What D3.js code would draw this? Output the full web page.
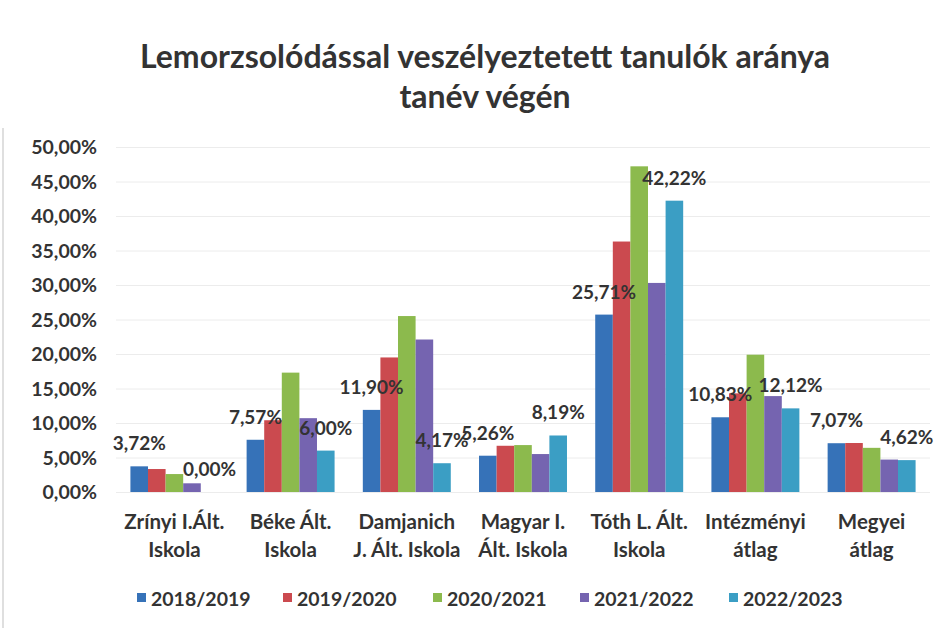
<!DOCTYPE html>
<html>
<head>
<meta charset="utf-8">
<script src="https://cdn.jsdelivr.net/npm/d3@7"></script>
<style>
    body { margin: 0; background: #fff; }
    svg { display: block; font-family: Lato, "Open Sans", sans-serif; }
</style>
</head>
<body>
<div id="chart"></div>
<script>
let categories = [
    ["Zrínyi I.Ált.", "Iskola"],
    ["Béke Ált.", "Iskola"],
    ["Damjanich", "J. Ált. Iskola"],
    ["Magyar I.", "Ált. Iskola"],
    ["Tóth L. Ált.", "Iskola"],
    ["Intézményi", "átlag"],
    ["Megyei", "átlag"]
];
let seriesNames = ["2018/2019", "2019/2020", "2020/2021", "2021/2022", "2022/2023"];
let seriesColors = ["#3672b8", "#cb4a4f", "#8cba4d", "#7564b0", "#3b9ec4"];

// one array per school year, values in percent
let v2018 = [3.72, 7.57, 11.90, 5.26, 25.71, 10.83, 7.07];
let v2019 = [3.33, 10.4, 19.5, 6.7, 36.3, 14.3, 7.1];
let v2020 = [2.6, 17.3, 25.5, 6.8, 47.2, 19.9, 6.4];
let v2021 = [1.26, 10.7, 22.1, 5.5, 30.3, 13.9, 4.7];
let v2022 = [0.00, 6.00, 4.17, 8.19, 42.22, 12.12, 4.62];

let yTicks = [0, 5, 10, 15, 20, 25, 30, 35, 40, 45, 50];
let labelledSeries = [0, 4];   // Excel only shows labels on first and last year

let allValues = [v2018, v2019, v2020, v2021, v2022];

function fmt(v) {
    return v.toFixed(2).replace(".", ",") + "%";
}

function drawChart() {
    let width = 941, height = 628;
    let svg = d3.select("#chart").append("svg")
        .attr("width", width)
        .attr("height", height);

    // faint scanner edge on the left
    svg.append("line")
        .attr("x1", 3).attr("x2", 3)
        .attr("y1", 128).attr("y2", height)
        .attr("stroke", "#d4d4d4")
        .attr("stroke-width", 1.5);

    let left = 116, right = 930, top = 147, bottom = 492;

    let x0 = d3.scaleBand()
        .domain(d3.range(categories.length))
        .range([left, right])
        .paddingInner(0.243)
        .paddingOuter(0.124);
    let x1 = d3.scaleBand()
        .domain(d3.range(seriesNames.length))
        .range([0, x0.bandwidth()]);
    let y = d3.scaleLinear().domain([0, 50]).range([bottom, top]);

    // title
    let title = svg.append("text")
        .attr("text-anchor", "middle")
        .attr("font-size", 32)
        .attr("font-weight", 700)
        .attr("fill", "#333");
    title.append("tspan").attr("x", 485).attr("y", 68).text("Lemorzsolódással veszélyeztetett tanulók aránya");
    title.append("tspan").attr("x", 485).attr("y", 108).text("tanév végén");

    // y axis: gridlines + labels
    let yAxis = svg.append("g")
        .attr("transform", "translate(" + left + ",0)")
        .call(d3.axisLeft(y).tickValues(yTicks).tickSize(-(right - left)).tickFormat(fmt));
    yAxis.select(".domain").remove();
    yAxis.selectAll(".tick line")
        .attr("stroke", "#ececec");
    yAxis.selectAll(".tick text")
        .attr("x", -19)
        .attr("dy", "0.35em")
        .attr("font-family", "Lato, sans-serif")
        .attr("font-size", 19.5)
        .attr("font-weight", 700)
        .attr("fill", "#333");

    // bars
    let groups = svg.selectAll(".grp")
        .data(categories)
        .enter().append("g")
        .attr("class", "grp")
        .attr("transform", (d, i) => "translate(" + x0(i) + ",0)");

    groups.selectAll("rect")
        .data((d, i) => allValues.map((s, k) => ({ k: k, v: s[i] })))
        .enter().append("rect")
        .attr("x", d => x1(d.k))
        .attr("y", d => y(d.v))
        .attr("width", x1.bandwidth())
        .attr("height", d => bottom - y(d.v))
        .attr("fill", d => seriesColors[d.k]);

    // data labels
    groups.selectAll(".lbl")
        .data((d, i) => labelledSeries.map(k => ({ k: k, v: allValues[k][i] })))
        .enter().append("text")
        .attr("class", "lbl")
        .attr("x", d => x1(d.k) + x1.bandwidth() / 2)
        .attr("y", d => y(d.v) - 16)
        .attr("text-anchor", "middle")
        .attr("font-size", 19)
        .attr("font-weight", 700)
        .attr("fill", "#333")
        .text(d => fmt(d.v));

    // category labels
    let cat = svg.selectAll(".cat")
        .data(categories)
        .enter().append("text")
        .attr("class", "cat")
        .attr("text-anchor", "middle")
        .attr("font-size", 20.5)
        .attr("font-weight", 700)
        .attr("fill", "#333");
    cat.append("tspan")
        .attr("x", (d, i) => x0(i) + x0.bandwidth() / 2)
        .attr("y", 529)
        .text(d => d[0]);
    cat.append("tspan")
        .attr("x", (d, i) => x0(i) + x0.bandwidth() / 2)
        .attr("y", 557)
        .text(d => d[1]);

    // legend
    let legendX = [137, 283, 433, 580, 729];
    let legend = svg.selectAll(".leg")
        .data(seriesNames)
        .enter().append("g")
        .attr("class", "leg")
        .attr("transform", (d, i) => "translate(" + legendX[i] + ",593)");
    legend.append("rect")
        .attr("width", 9).attr("height", 9)
        .attr("fill", (d, i) => seriesColors[i]);
    legend.append("text")
        .attr("x", 14)
        .attr("y", 12.5)
        .attr("font-size", 19.5)
        .attr("font-weight", 700)
        .attr("fill", "#333")
        .text(d => d);
}

drawChart();
</script>
</body>
</html>
